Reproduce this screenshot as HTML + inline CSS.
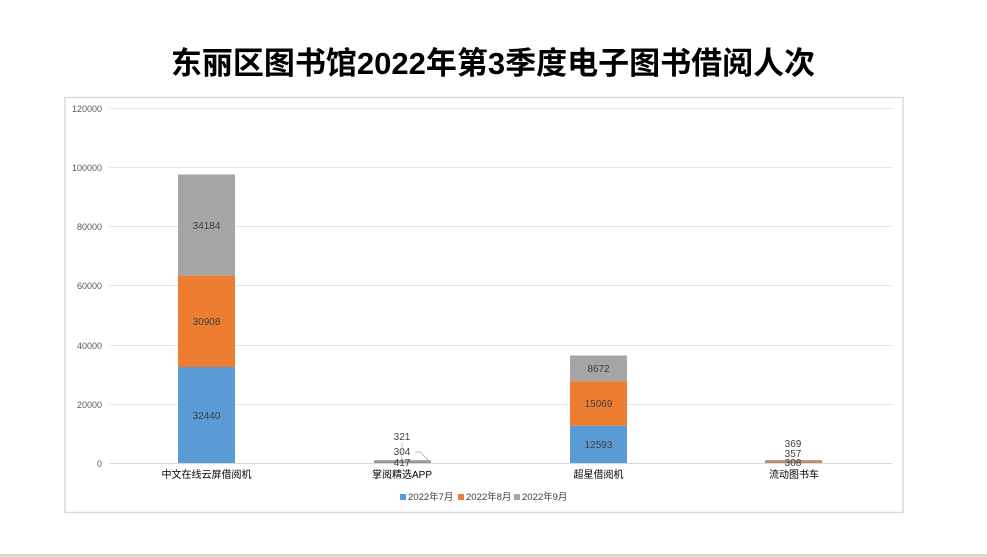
<!DOCTYPE html>
<html><head><meta charset="utf-8"><style>
body{margin:0;background:#fff;}
svg{display:block;font-family:"Liberation Sans","Noto Sans CJK SC",sans-serif;}
</style></head><body>
<svg width="987" height="557" xmlns="http://www.w3.org/2000/svg">
<rect width="987" height="557" fill="#fff"/>
<text x="493" y="74" text-anchor="middle" font-size="31" font-weight="bold" fill="#000">东丽区图书馆2022年第3季度电子图书借阅人次</text>
<rect x="65" y="97.5" width="838" height="415" fill="#fff" stroke="#d9d9d9" stroke-width="1.5"/>
<g stroke="#e6e6e6" stroke-width="1">
<line x1="109" x2="892" y1="108.5" y2="108.5"/>
<line x1="109" x2="892" y1="167.5" y2="167.5"/>
<line x1="109" x2="892" y1="226.5" y2="226.5"/>
<line x1="109" x2="892" y1="285.5" y2="285.5"/>
<line x1="109" x2="892" y1="345.5" y2="345.5"/>
<line x1="109" x2="892" y1="404.5" y2="404.5"/>
</g>
<g font-size="9" fill="#595959" text-anchor="end">
<text x="102" y="112">120000</text>
<text x="102" y="171">100000</text>
<text x="102" y="230">80000</text>
<text x="102" y="289">60000</text>
<text x="102" y="349">40000</text>
<text x="102" y="408">20000</text>
<text x="102" y="467">0</text>
</g>
<rect x="178" y="367" width="57" height="96" fill="#5b9bd5"/>
<rect x="178" y="275.6" width="57" height="91.4" fill="#ed7d31"/>
<rect x="178" y="174.5" width="57" height="101.1" fill="#a5a5a5"/>
<rect x="374" y="461.8" width="57" height="1.2" fill="#5b9bd5"/>
<rect x="374" y="460.9" width="57" height="0.9" fill="#ed7d31"/>
<rect x="374" y="460" width="57" height="0.9" fill="#a5a5a5"/>
<rect x="570" y="425.7" width="57" height="37.3" fill="#5b9bd5"/>
<rect x="570" y="381.2" width="57" height="44.5" fill="#ed7d31"/>
<rect x="570" y="355.5" width="57" height="25.7" fill="#a5a5a5"/>
<rect x="765" y="462" width="57" height="1" fill="#5b9bd5"/>
<rect x="765" y="461" width="57" height="1.5" fill="#ed7d31"/>
<rect x="765" y="460" width="57" height="1.2" fill="#a5a5a5"/>
<line x1="109" x2="892" y1="463.5" y2="463.5" stroke="#d9d9d9"/>
<g font-size="10" fill="#404040" text-anchor="middle">
<text x="206.5" y="419">32440</text>
<text x="206.5" y="325">30908</text>
<text x="206.5" y="229">34184</text>
<text x="598.5" y="448">12593</text>
<text x="598.5" y="407">15069</text>
<text x="598.5" y="372">8672</text>
<text x="402" y="440">321</text>
<text x="402" y="455">304</text>
<text x="402" y="466">417</text>
<text x="793" y="447">369</text>
<text x="793" y="457">357</text>
<text x="793" y="466">308</text>
</g>
<polyline points="415,452 420,452 428,460" fill="none" stroke="#a5a5a5" stroke-width="0.8"/>
<line x1="402" y1="442" x2="402" y2="460" stroke="#a5a5a5" stroke-width="0.6"/>
<g font-size="10" fill="#000" text-anchor="middle">
<text x="206.5" y="478">中文在线云屏借阅机</text>
<text x="402" y="478">掌阅精选APP</text>
<text x="598.5" y="478">超星借阅机</text>
<text x="794" y="478">流动图书车</text>
</g>
<g font-size="9.5" fill="#404040">
<rect x="400" y="494" width="6" height="6" fill="#5b9bd5"/><text x="408" y="500">2022年7月</text>
<rect x="458" y="494" width="6" height="6" fill="#ed7d31"/><text x="466" y="500">2022年8月</text>
<rect x="514" y="494" width="6" height="6" fill="#a5a5a5"/><text x="522" y="500">2022年9月</text>
</g>
<rect x="0" y="554" width="987" height="3" fill="#d6dbd0"/>
</svg>
</body></html>
